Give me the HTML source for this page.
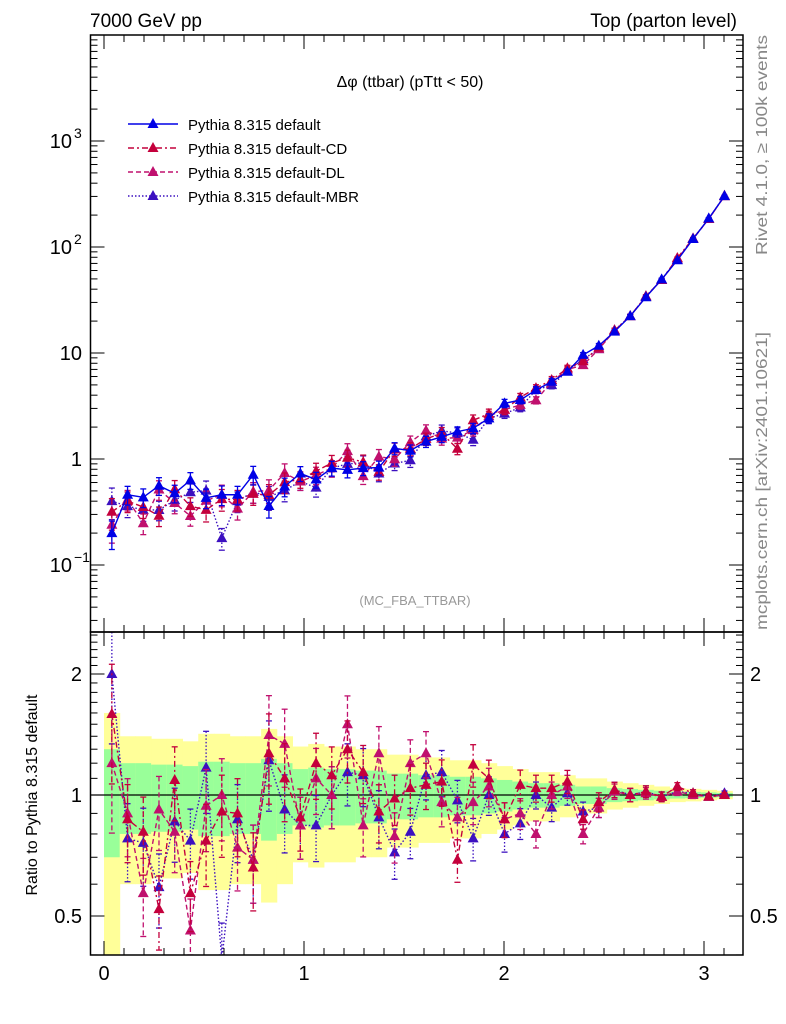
<!DOCTYPE html>
<html><head><meta charset="utf-8"><style>
body{margin:0;background:#fff;}
svg{display:block;font-family:"Liberation Sans",sans-serif;}
</style></head><body>
<svg id="c" width="786" height="1024" xmlns="http://www.w3.org/2000/svg">
<text x="90" y="27" font-size="19">7000 GeV pp</text>
<text x="737" y="27" font-size="19" text-anchor="end">Top (parton level)</text>
<text x="410" y="87" font-size="16" text-anchor="middle">Δφ (ttbar) (pTtt &lt; 50)</text>
<text x="415" y="605" font-size="13" fill="#999" text-anchor="middle">(MC_FBA_TTBAR)</text>
<text transform="translate(767,255) rotate(-90)" font-size="16" fill="#888" textLength="220" lengthAdjust="spacingAndGlyphs">Rivet 4.1.0, ≥ 100k events</text>
<text transform="translate(767,630) rotate(-90)" font-size="16" fill="#888" textLength="298" lengthAdjust="spacingAndGlyphs">mcplots.cern.ch [arXiv:2401.10621]</text>
<text transform="translate(37,795) rotate(-90)" font-size="16" text-anchor="middle">Ratio to Pythia 8.315 default</text>
<g id="bands"></g><g id="marks"></g><g id="axes"></g><g id="legend"></g>
</svg>
<script>
const values = [0.2,0.46,0.435,0.56,0.475,0.63,0.43,0.46,0.46,0.71,0.36,0.55,0.73,0.64,0.82,0.79,0.82,0.83,1.26,1.2,1.46,1.62,1.81,1.95,2.42,3.35,3.6,4.48,5.35,6.65,9.6,11.7,15.9,22.3,33.6,49.5,75,119,186,302];
const relErr = [0.3,0.2,0.2,0.19,0.19,0.18,0.21,0.21,0.2,0.2,0.23,0.2,0.16,0.17,0.16,0.16,0.15,0.15,0.13,0.13,0.12,0.12,0.11,0.11,0.1,0.09,0.08,0.07,0.07,0.06,0.05,0.05,0.04,0.035,0.03,0.025,0.02,0.018,0.015,0.012];
const ratioCD = [1.59,0.87,0.81,0.52,1.09,0.57,0.77,0.91,0.9,0.66,1.27,1.1,0.88,1.2,1.12,1.3,1.14,0.91,0.98,1.04,1.06,1.08,0.69,1.19,1.1,0.87,1.06,1.04,1.04,1.08,0.87,0.96,1.03,1.0,1.02,0.99,1.05,1.01,0.99,1.0];
const ratioDL = [1.2,0.9,0.57,0.92,0.81,0.46,0.94,1.0,0.74,0.69,1.41,1.34,0.84,1.1,1.0,1.5,0.84,1.27,0.79,1.2,1.27,0.96,0.88,0.96,1.05,0.87,0.9,0.8,1.0,1.05,0.8,0.93,1.02,1.0,1.01,0.99,1.02,1.0,0.99,1.0];
const ratioMBR = [2.0,0.78,0.76,0.59,0.86,0.77,1.17,0.39,0.87,0.69,1.22,0.92,0.84,0.84,1.0,1.14,1.12,0.88,0.72,0.81,1.12,1.14,0.97,0.78,1.0,0.8,0.85,1.0,0.93,1.01,0.91,0.93,1.03,1.0,1.02,0.99,1.02,1.01,0.99,1.01];
const nBins = 40;
const xTicks = [0,1,2,3];
const mainTicks = [[3,"10","3"],[2,"10","2"],[1,"10",""],[0,"1",""],[-1,"10","−1"]];
const ratioTicks = [[2,"2"],[1,"1"],[0.5,"0.5"]];

const NS="http://www.w3.org/2000/svg";
const L=90.5,R=743,MT=35,MB=632,RB=955;
const X=v=>104+200*v;
const YM=v=>459-106*Math.log10(v);
const YR=v=>795-121*Math.log2(v);
function mk(tag,attrs,parent){const e=document.createElementNS(NS,tag);for(const k in attrs)e.setAttribute(k,attrs[k]);parent.appendChild(e);return e;}
const bands=document.getElementById('bands'),marks=document.getElementById('marks'),axes=document.getElementById('axes'),legend=document.getElementById('legend');
const bw=Math.PI/nBins;
const clipR=v=>Math.min(Math.max(v,0.4),2.54);
for(let k=0;k<nBins;k++){
  const x0=X(k*bw),x1=X((k+1)*bw),e=relErr[k];
  const y=mk('rect',{x:x0,y:YR(clipR(1+2*e)),width:x1-x0+0.5,height:YR(clipR(1-2*e))-YR(clipR(1+2*e)),fill:'#ffff99'},bands);
  
  
  const g=mk('rect',{x:x0,y:YR(1+e),width:x1-x0+0.5,height:YR(1-e)-YR(1+e),fill:'#99ff99'},bands);
  
  
}
mk('line',{x1:L,x2:R,y1:YR(1),y2:YR(1),stroke:'#000','stroke-width':1.2},bands);
const series=[
 {name:'Pythia 8.315 default',ratio:null,color:'#0000e6',dash:'',key:'default'},
 {name:'Pythia 8.315 default-CD',ratio:ratioCD,color:'#c4003c',dash:'6,3,2,3',key:'cd'},
 {name:'Pythia 8.315 default-DL',ratio:ratioDL,color:'#c0106e',dash:'5,3',key:'dl'},
 {name:'Pythia 8.315 default-MBR',ratio:ratioMBR,color:'#3c10c0',dash:'1.5,2',key:'mbr'}
];
function tri(g,x,y,c){const p=mk('path',{d:`M${x},${y-6}L${x+5.5},${y+4}L${x-5.5},${y+4}Z`,fill:c},g);return p;}
function drawSeries(s,yfun,val,top,bot,grp){
  const pts=[];
  for(let k=0;k<nBins;k++){
    const v=val(k); if(v<=0)continue;
    const x=X((k+0.5)*bw),y=yfun(v);
    pts.push([x,Math.min(Math.max(y,top-20),bot+20)]);
    const e=v*relErr[k]*(s.ratio?1.1:1);
    const ya=Math.max(yfun(v+e),top),yb=Math.min(yfun(Math.max(v-e,1e-4)),bot);
    mk('line',{x1:x,x2:x,y1:ya,y2:yb,stroke:s.color,'stroke-width':1.3,'stroke-dasharray':s.dash},grp);
    mk('line',{x1:x-3,x2:x+3,y1:ya,y2:ya,stroke:s.color,'stroke-width':1.3},grp);
    mk('line',{x1:x-3,x2:x+3,y1:yb,y2:yb,stroke:s.color,'stroke-width':1.3},grp);
    if(y>top&&y<bot){const t=tri(grp,x,y,s.color);
      
      }
  }
  const pl=mk('polyline',{points:pts.map(p=>p.join(',')).join(' '),fill:'none',stroke:s.color,'stroke-width':1.4,'stroke-dasharray':s.dash},grp);
  
  
}
mk('clipPath',{id:'cm'},marks);
mk('rect',{x:L,y:MT,width:R-L,height:MB-MT},document.getElementById('cm'));
mk('clipPath',{id:'cr'},marks);
mk('rect',{x:L,y:MB,width:R-L,height:RB-MB},document.getElementById('cr'));
for(const s of [...series].reverse()){
  const gm=mk('g',{'clip-path':'url(#cm)'},marks);
  
  
  drawSeries(s,YM,k=>values[k]*(s.ratio?s.ratio[k]:1),MT,MB,gm);
  if(s.ratio){
    const gr=mk('g',{'clip-path':'url(#cr)'},marks);
    
    
    drawSeries(s,YR,k=>s.ratio[k],MB,RB,gr);
  }
}
for(const [t,b] of [[MT,MB],[MB,RB]]){
  mk('rect',{x:L,y:t,width:R-L,height:b-t,fill:'none',stroke:'#000','stroke-width':1.5},axes);
  for(let i=0;i<=32;i++){
    const vv=i/10;
    const x=X(vv); if(x<L||x>R)continue;
    const major=i%10===0, len=major?14:7;
    mk('line',{x1:x,x2:x,y1:b,y2:b-len,stroke:'#000'},axes);
    mk('line',{x1:x,x2:x,y1:t,y2:t+len,stroke:'#000'},axes);
  }
}
xTicks.forEach(v=>{const t=mk('text',{x:X(v),y:980,'font-size':20,'text-anchor':'middle'},axes);t.textContent=v;
  
  });
for(let d=-2;d<=4;d++){for(let m=1;m<10;m++){const v=m*Math.pow(10,d),y=YM(v);if(y<MT||y>MB)continue;
  const len=m===1?14:7;
  mk('line',{x1:L,x2:L+len,y1:y,y2:y,stroke:'#000'},axes);mk('line',{x1:R,x2:R-len,y1:y,y2:y,stroke:'#000'},axes);}}
mainTicks.forEach(([p,b,e])=>{const y=YM(Math.pow(10,p));
  const t=mk('text',{x:e?72:82,y:y+7,'font-size':20,'text-anchor':'end'},axes);t.textContent=b;
  
  
  if(e){const s=mk('text',{x:74,y:y-3,'font-size':14},axes);s.textContent=e;}});
for(let i=4;i<=25;i++){const vv=i/10,y=YR(vv);if(y<MB||y>RB)continue;
  const major=[5,10,20].includes(i),len=major?14:7;
  mk('line',{x1:L,x2:L+len,y1:y,y2:y,stroke:'#000'},axes);mk('line',{x1:R,x2:R-len,y1:y,y2:y,stroke:'#000'},axes);}
ratioTicks.forEach(([v,l])=>{const y=YR(v);
  const t=mk('text',{x:82,y:y+7,'font-size':20,'text-anchor':'end'},axes);t.textContent=l;
  
  
  const t2=mk('text',{x:750,y:y+7,'font-size':20},axes);t2.textContent=l;
  
  });
series.forEach((s,i)=>{const y=124+i*24;const g=mk('g',{},legend);
  
  
  mk('line',{x1:128,x2:178,y1:y,y2:y,stroke:s.color,'stroke-width':1.4,'stroke-dasharray':s.dash},g);
  tri(g,153,y,s.color);
  const t=mk('text',{x:188,y:y+6,'font-size':15},g);t.textContent=s.name;});
</script>
</body></html>
